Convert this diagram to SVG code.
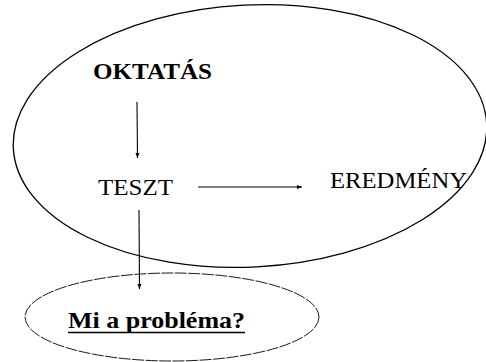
<svg xmlns="http://www.w3.org/2000/svg" width="486" height="362" viewBox="0 0 486 362">
<style>
.c{stroke:#000;stroke-width:1.1;fill:none}
</style>
<defs>
<marker id="ah" markerWidth="6" markerHeight="6" refX="5" refY="3" orient="auto" markerUnits="userSpaceOnUse">
<path d="M0,1 L5,3 L0,5 Z" fill="#000"/>
</marker>
</defs>
<rect width="486" height="362" fill="#fff"/>
<g id="big-ellipse">
<ellipse cx="250" cy="136" rx="237" ry="131" transform="rotate(-3 250 136)" fill="none" stroke="#000" stroke-width="1.3"/>
</g>
<g id="small-ellipse">
<ellipse cx="172" cy="317" rx="147" ry="44" fill="none" stroke="#000" stroke-width="0.9" stroke-dasharray="12 1.5"/>
</g>
<g font-family="Liberation Serif, Times New Roman, DejaVu Serif, serif" fill="#000">
<g id="oktatas">
<text font-weight="bold" x="93" y="79" font-size="24" textLength="119" lengthAdjust="spacingAndGlyphs">OKTATÁS</text>
</g>
<g id="teszt">
<text x="98" y="195" font-size="24" textLength="75" lengthAdjust="spacingAndGlyphs">TESZT</text>
</g>
<g id="eredmeny">
<text x="330" y="188" font-size="24" textLength="137" lengthAdjust="spacingAndGlyphs">EREDMÉNY</text>
</g>
<g id="problema">
<text font-weight="bold" x="68" y="328" font-size="24" textLength="177" lengthAdjust="spacingAndGlyphs">Mi a probléma?</text>
<line x1="68" y1="332.5" x2="245" y2="332.5" stroke="#000" stroke-width="1.6"/>
</g>
</g>
<g id="connectors">
<line class="c" x1="137" y1="102" x2="137.5" y2="158" marker-end="url(#ah)"/>
<line class="c" x1="198" y1="187" x2="302" y2="187" marker-end="url(#ah)"/>
<line class="c" x1="139" y1="210" x2="139.5" y2="289" marker-end="url(#ah)"/>
</g>
</svg>
